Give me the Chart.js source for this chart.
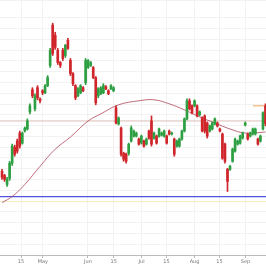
<!DOCTYPE html>
<html>
<head>
<meta charset="utf-8">
<script src="https://cdn.jsdelivr.net/npm/chart.js@4"></script>
<style>
  html, body { margin: 0; padding: 0; background: #fff; }
</style>
</head>
<body>
<canvas id="price_chart" width="266" height="266"></canvas>
<script>
// daily candles, oldest first
const opens  = [83,79,70,76,91,107,113,121,111,123,125,142,164,145,166,155,163,161,168,188,228,218,203,191,203,198,213,193,180,168,158,161,166,171,186,188,186,176,158,160,161,167,163,165,163,146,130,126,101,100,101,113,118,118,115,111,113,110,123,133,116,118,118,119,118,118,123,120,115,108,108,115,123,135,153,148,148,148,139,136,138,131,123,125,130,131,125,120,110,85,85,93,103,110,111,116,129,120,118,120,120,115,113,125,148];
const closes = [77,75,75,91,108,100,103,108,121,126,133,148,158,158,156,153,161,168,176,203,200,206,191,188,195,208,205,180,170,156,165,168,163,193,193,191,176,151,165,166,168,165,160,168,166,131,136,100,95,93,110,126,123,121,110,118,108,115,116,110,121,111,125,121,123,111,120,121,100,113,115,123,135,153,145,141,153,138,142,123,123,118,128,131,135,128,123,96,93,73,88,105,115,113,118,121,131,115,121,125,125,110,118,141,130];
const highs  = [85,80,77,93,110,109,115,123,122,127,135,150,166,160,168,156,164,169,178,205,230,221,205,192,205,209,215,195,181,169,166,169,167,195,194,192,187,177,166,167,170,168,164,169,167,148,137,127,102,101,111,128,124,122,116,119,114,116,124,138,122,119,126,122,124,119,124,122,116,114,116,124,136,155,155,149,154,149,143,137,139,132,129,132,136,132,126,121,111,86,89,106,116,114,119,122,132,121,122,126,126,116,119,142,150];
const lows   = [75,73,68,74,89,98,101,106,110,122,124,140,156,143,154,151,159,160,167,186,198,204,189,186,193,196,204,178,168,154,157,160,162,169,185,187,175,149,156,159,160,164,159,164,162,130,129,98,93,91,99,112,117,117,109,110,107,109,115,108,115,110,117,118,117,110,119,119,98,107,107,114,122,134,144,140,147,137,138,122,121,116,122,124,129,127,122,95,91,63,84,92,102,109,110,115,128,114,117,119,119,109,112,124,128];

// moving average (index, value)
const maIdx = [0,4,9,15,21,27,34,39,46,54,60,66,72,78,84,90,96,104];
const maVal = [52,58,70,88,105,117,133,140,149,153,154,150,144,137,131,125,121,122];

// horizontal levels
const levelPale = 133;
const levelBlue = 58;
const levelYellow = 53;
const levelOrange = 148;
const orangeFrom = 99;

// x tick labels
const tickPos = [7.5,16.1,33.9,44.1,55.1,64.9,76,85.8,96.1];
const tickLabels = ["15","May","Jun","15","Jul","15","Aug","15","Sep"];

const xMin = -0.8, xMax = 104.2;
const upColor = "#2ea043";
const downColor = "#d0262b";

let bodies = [], wicks = [], colors = [];
for (let i = 0; i < opens.length; i++) {
    bodies.push({x: i, y: [opens[i], closes[i]]});
    wicks.push({x: i, y: [lows[i], highs[i]]});
    colors.push(closes[i] >= opens[i] ? upColor : downColor);
}
let ma = [];
for (let i = 0; i < maIdx.length; i++) ma.push({x: maIdx[i], y: maVal[i]});

function hline(v, from, to) {
    return [{x: from, y: v}, {x: to, y: v}];
}

let ctx = document.getElementById("price_chart");
let priceChart = new Chart(ctx, {
    type: 'bar',
    data: {
        datasets: [
            {type: 'line', data: hline(levelYellow, xMin, xMax), borderColor: '#f3ecc0', borderWidth: 1, pointRadius: 0, order: 5},
            {type: 'line', data: hline(levelPale, xMin, xMax), borderColor: '#dcbdb4', borderWidth: 1, pointRadius: 0, order: 5},
            {type: 'line', data: hline(levelBlue, xMin, xMax), borderColor: '#5252e0', borderWidth: 1.2, pointRadius: 0, order: 5},
            {type: 'line', data: hline(levelOrange, orangeFrom, xMax), borderColor: '#f2a65a', borderWidth: 1, pointRadius: 0, order: 5},
            {type: 'line', data: ma, borderColor: 'rgba(170,60,80,0.75)', borderWidth: 1, pointRadius: 0, tension: 0.4, order: 4},
            {data: wicks, backgroundColor: colors, barThickness: 1, grouped: false, order: 2},
            {data: bodies, backgroundColor: colors, barThickness: 2, grouped: false, order: 1}
        ]
    },
    options: {
        responsive: false,
        animation: false,
        layout: {padding: 0},
        plugins: {legend: {display: false}, tooltip: {enabled: false}},
        scales: {
            x: {
                type: 'linear',
                offset: false,
                min: xMin,
                max: xMax,
                afterBuildTicks: function (scale) {
                    scale.ticks = tickPos.map(v => ({value: v}));
                },
                ticks: {
                    autoSkip: false,
                    maxRotation: 0,
                    padding: 1,
                    color: '#777',
                    font: {size: 5, family: 'DejaVu Sans'},
                    callback: function (value, index) { return tickLabels[index]; }
                },
                grid: {color: '#f2f2f2', offset: false, tickLength: 3, tickColor: '#bbb'},
                border: {color: '#bbb'}
            },
            y: {
                position: 'right',
                min: 0,
                max: 253,
                ticks: {display: false, stepSize: 10.7},
                grid: {color: '#f2f2f2', drawTicks: false},
                border: {display: false}
            }
        }
    }
});
</script>
</body>
</html>
